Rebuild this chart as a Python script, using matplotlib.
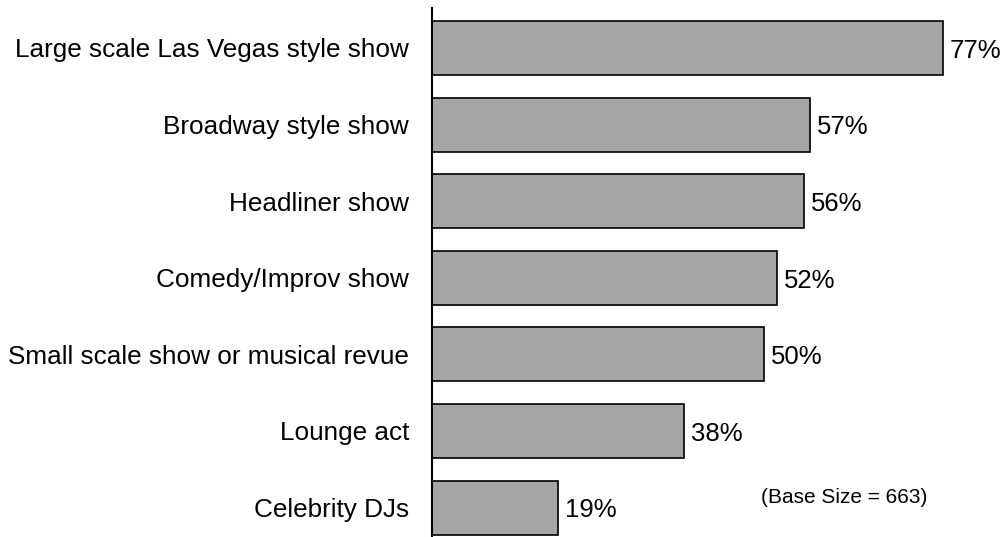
import matplotlib.pyplot as plt

plt.rcParams["font.family"] = ["Liberation Sans", "DejaVu Sans"]

categories = [
    "Large scale Las Vegas style show",
    "Broadway style show",
    "Headliner show",
    "Comedy/Improv show",
    "Small scale show or musical revue",
    "Lounge act",
    "Celebrity DJs",
]
values = [77, 57, 56, 52, 50, 38, 19]
base_note = "(Base Size = 663)"

W, H = 1001, 537
fig = plt.figure(figsize=(W / 100, H / 100), dpi=100)
# axes start at the vertical axis line and run to the right/bottom edges
ax = fig.add_axes([432 / W, 0.0, 1 - 432 / W, (H - 8) / H])

pos = list(range(len(categories)))
ax.barh(pos, values, height=0.705, color="#a6a6a6", edgecolor="black", linewidth=1.2)

for y, v in zip(pos, values):
    ax.annotate(f"{v}%", xy=(v, y), xytext=(5, -2), textcoords="offset points",
                va="center", ha="left", fontsize=18.5)

ax.set_xlim(0, (W - 432) / 6.635)
ax.set_ylim(6.384, -0.522)
ax.set_yticks(pos)
ax.set_yticklabels(categories, fontsize=18.8)
ax.tick_params(axis="y", length=0, pad=16.5)
ax.set_xticks([])

for side in ["top", "right", "bottom"]:
    ax.spines[side].set_visible(False)
ax.spines["left"].set_linewidth(1.5)

ax.text(0.725, 0.074, base_note, transform=ax.transAxes,
        ha="center", va="center", fontsize=15)

fig.savefig("out.png", dpi=100)
